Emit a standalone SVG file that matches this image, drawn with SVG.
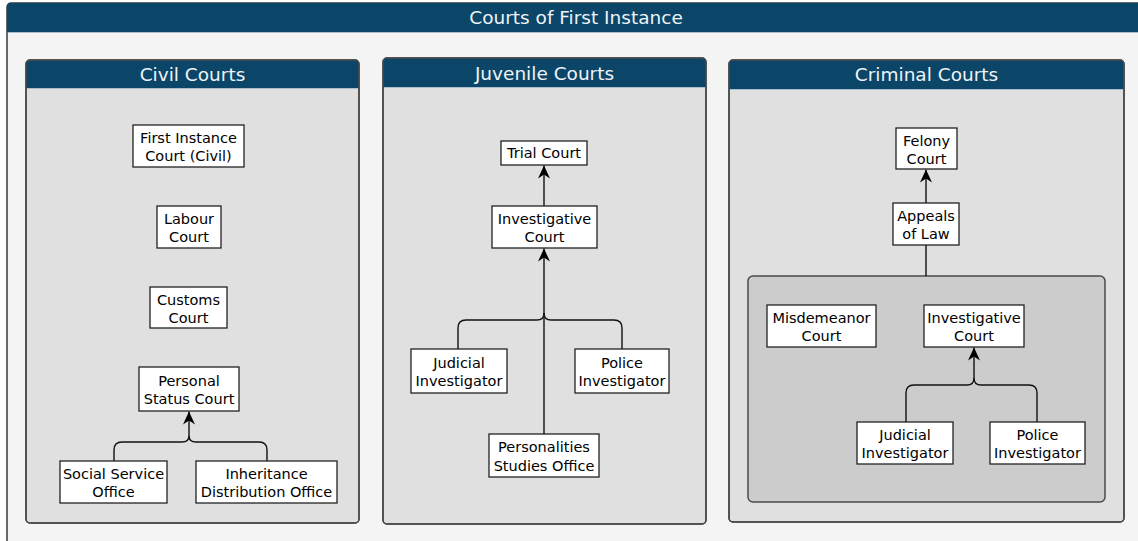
<svg xmlns="http://www.w3.org/2000/svg" width="1138" height="541" viewBox="0 0 1138 541">
<defs>
<style>
.frame{fill:#f4f4f4;stroke:#3a3a3a;stroke-width:1.5}
.hdr{fill:#0b4568}
.hline{stroke:#a9bfd0;stroke-width:1}
.panel{fill:#e0e0e0;stroke:#4a4a4a;stroke-width:1.5}
.pborder{fill:none;stroke:#4a4a4a;stroke-width:1.5}
.inner{fill:#cccccc;stroke:#4a4a4a;stroke-width:1.5}
.htxt{font-family:"DejaVu Sans","Liberation Sans",sans-serif;font-size:18.5px;fill:#eef3f7;text-anchor:middle}
.node rect{fill:#ffffff;stroke:#222222;stroke-width:1.3}
.node text{font-family:"DejaVu Sans","Liberation Sans",sans-serif;font-size:14.5px;fill:#000000;text-anchor:middle}
.conn path{fill:none;stroke:#111111;stroke-width:1.4}
</style>
<marker id="arr" viewBox="0 0 13 12" refX="13" refY="6" markerWidth="13" markerHeight="12" markerUnits="userSpaceOnUse" orient="auto">
<path d="M0,0 L13,6 L0,12 L4,6 Z" fill="#000000"/>
</marker>
</defs>

<g id="outer">
<rect class="frame" x="7" y="3" width="1145" height="548" rx="4"/>
<path class="hdr" d="M7,7 Q7,3 11,3 H1152 V32 H7 Z"/>
<line class="hline" x1="8" y1="32.5" x2="1138" y2="32.5"/>
<text class="htxt" x="576" y="24">Courts of First Instance</text>
</g>

<g id="civil-panel">
<rect class="panel" x="26" y="60" width="333" height="463" rx="4"/>
<path class="hdr" d="M26,64 Q26,60 30,60 H355 Q359,60 359,64 V88 H26 Z"/>
<line class="hline" x1="27" y1="88.5" x2="358" y2="88.5"/>
<rect class="pborder" x="26" y="60" width="333" height="463" rx="4"/>
<text class="htxt" x="192.5" y="81">Civil Courts</text>
</g>

<g id="juvenile-panel">
<rect class="panel" x="383" y="58" width="323" height="466" rx="4"/>
<path class="hdr" d="M383,62 Q383,58 387,58 H702 Q706,58 706,62 V87 H383 Z"/>
<line class="hline" x1="384" y1="87.5" x2="705" y2="87.5"/>
<rect class="pborder" x="383" y="58" width="323" height="466" rx="4"/>
<text class="htxt" x="544.5" y="80">Juvenile Courts</text>
</g>

<g id="criminal-panel">
<rect class="panel" x="729" y="60" width="395" height="462" rx="4"/>
<path class="hdr" d="M729,64 Q729,60 733,60 H1120 Q1124,60 1124,64 V89 H729 Z"/>
<line class="hline" x1="730" y1="89.5" x2="1123" y2="89.5"/>
<rect class="pborder" x="729" y="60" width="395" height="462" rx="4"/>
<text class="htxt" x="926.5" y="81">Criminal Courts</text>
</g>

<g id="criminal-inner-group">
<rect class="inner" x="748" y="276" width="357" height="226" rx="5"/>
</g>

<g class="conn" id="connectors">
<path d="M114,461 V450 Q114,442 122,442 H182 Q189,442 189,436"/>
<path d="M267,461 V450 Q267,442 259,442 H196 Q189,442 189,436"/>
<path d="M189,436 V411.5" marker-end="url(#arr)"/>
<path d="M544,206 V165.5" marker-end="url(#arr)"/>
<path d="M544,434 V248.5" marker-end="url(#arr)"/>
<path d="M458,349 V328 Q458,320 466,320 H537 Q544,320 544,313"/>
<path d="M622,349 V328 Q622,320 614,320 H551 Q544,320 544,313"/>
<path d="M926,203 V169.5" marker-end="url(#arr)"/>
<path d="M926,276 V245"/>
<path d="M906,422 V393 Q906,385 914,385 H967 Q974,385 974,378"/>
<path d="M1037,422 V393 Q1037,385 1029,385 H981 Q974,385 974,378"/>
<path d="M974,378 V347.5" marker-end="url(#arr)"/>
</g>

<g class="node" id="first-instance-civil"><rect x="133" y="125" width="111" height="42"/><text x="188.5" y="143">First Instance</text><text x="188.5" y="161">Court (Civil)</text></g>
<g class="node" id="labour-court"><rect x="157" y="206" width="64" height="42"/><text x="189" y="224">Labour</text><text x="189" y="242">Court</text></g>
<g class="node" id="customs-court"><rect x="150" y="287" width="77" height="41"/><text x="188.5" y="305">Customs</text><text x="188.5" y="323">Court</text></g>
<g class="node" id="personal-status-court"><rect x="139" y="367" width="100" height="44"/><text x="189" y="386">Personal</text><text x="189" y="404">Status Court</text></g>
<g class="node" id="social-service-office"><rect x="60" y="461" width="107" height="42"/><text x="113.5" y="479">Social Service</text><text x="113.5" y="497">Office</text></g>
<g class="node" id="inheritance-office"><rect x="196" y="461" width="141" height="42"/><text x="266.5" y="479">Inheritance</text><text x="266.5" y="497">Distribution Office</text></g>

<g class="node" id="trial-court"><rect x="501" y="141" width="86" height="24"/><text x="544" y="158">Trial Court</text></g>
<g class="node" id="juv-investigative-court"><rect x="492" y="206" width="105" height="42"/><text x="544.5" y="224">Investigative</text><text x="544.5" y="242">Court</text></g>
<g class="node" id="juv-judicial-investigator"><rect x="411" y="349" width="96" height="44"/><text x="459" y="368">Judicial</text><text x="459" y="386">Investigator</text></g>
<g class="node" id="juv-police-investigator"><rect x="575" y="349" width="94" height="44"/><text x="622" y="368">Police</text><text x="622" y="386">Investigator</text></g>
<g class="node" id="personalities-office"><rect x="489" y="434" width="110" height="43"/><text x="544" y="452">Personalities</text><text x="544" y="471">Studies Office</text></g>

<g class="node" id="felony-court"><rect x="896" y="128" width="61" height="41"/><text x="926.5" y="146">Felony</text><text x="926.5" y="164">Court</text></g>
<g class="node" id="appeals-of-law"><rect x="893" y="203" width="66" height="42"/><text x="926" y="221">Appeals</text><text x="926" y="239">of Law</text></g>
<g class="node" id="misdemeanor-court"><rect x="767" y="305" width="109" height="42"/><text x="821.5" y="323">Misdemeanor</text><text x="821.5" y="341">Court</text></g>
<g class="node" id="crim-investigative-court"><rect x="924" y="305" width="100" height="42"/><text x="974" y="323">Investigative</text><text x="974" y="341">Court</text></g>
<g class="node" id="crim-judicial-investigator"><rect x="857" y="422" width="96" height="42"/><text x="905" y="440">Judicial</text><text x="905" y="458">Investigator</text></g>
<g class="node" id="crim-police-investigator"><rect x="990" y="422" width="95" height="42"/><text x="1037.5" y="440">Police</text><text x="1037.5" y="458">Investigator</text></g>
</svg>
